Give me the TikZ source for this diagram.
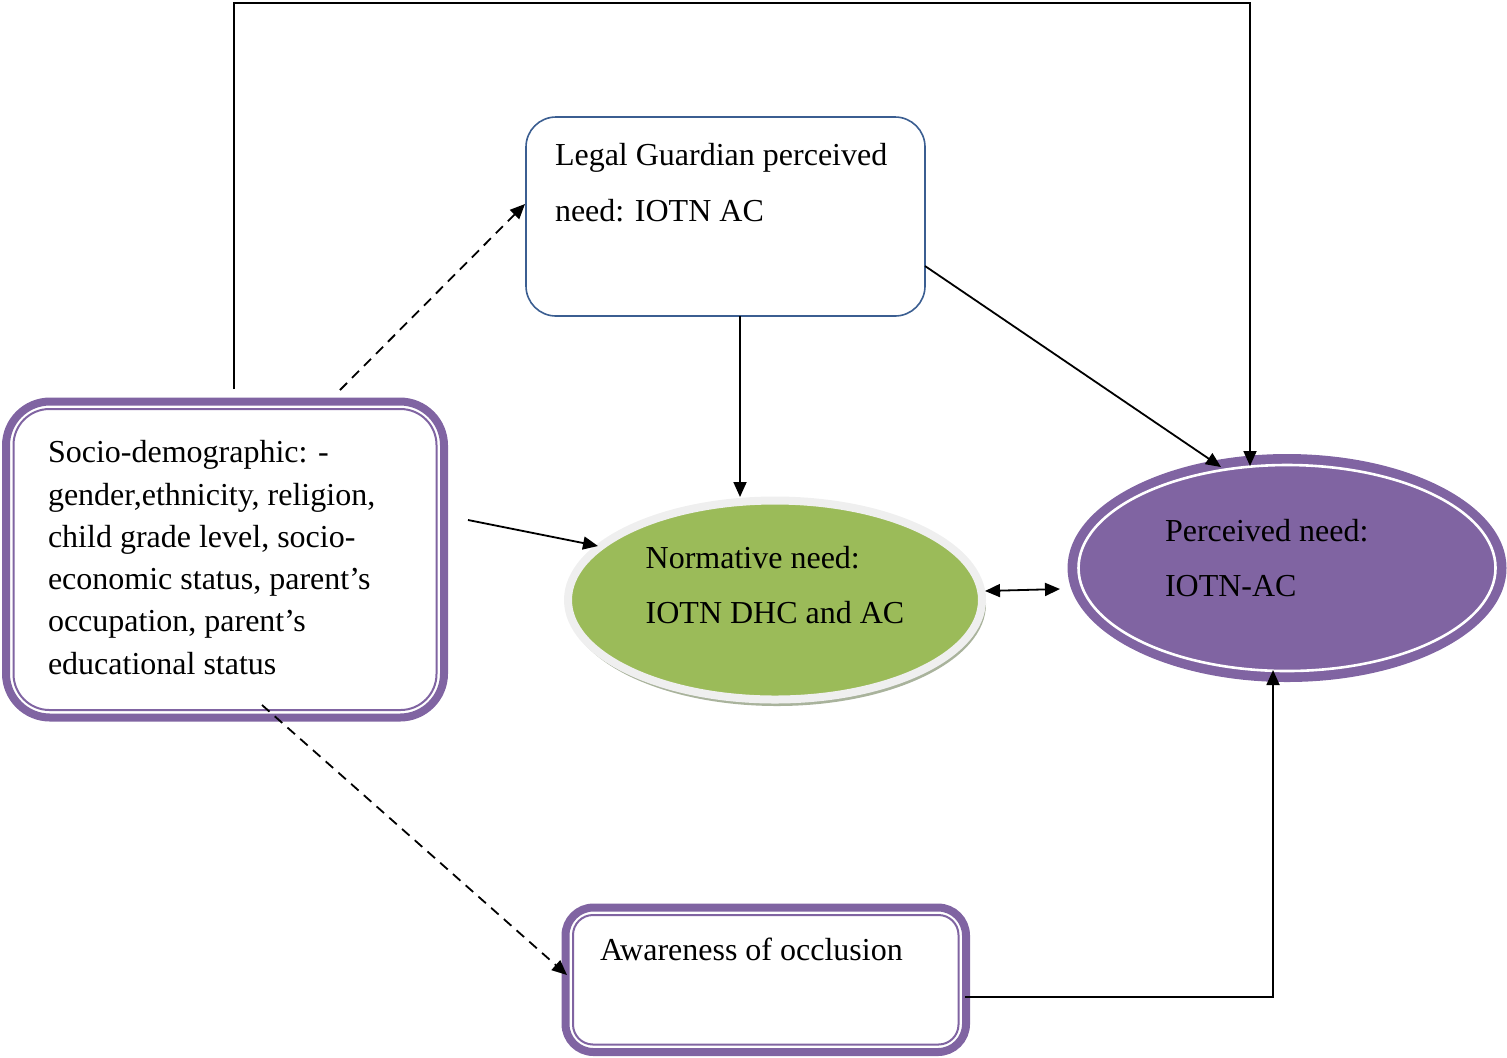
\documentclass[tikz,border=0pt]{standalone}
\usepackage{fontspec}
\setmainfont{Liberation Serif}
\usetikzlibrary{arrows.meta,shapes.geometric,calc}
\definecolor{purp}{HTML}{8064A2}
\definecolor{grn}{HTML}{9BBB59}
\definecolor{blu}{HTML}{3B5E91}
\definecolor{ringc}{HTML}{EFEFEF}
\definecolor{shad}{HTML}{A9B39C}
\begin{document}
\begin{tikzpicture}[x=0.5pt,y=-0.5pt,
  conn/.style={line width=0.9pt,-{Triangle[length=7.5pt,width=6.5pt]}},
  dconn/.style={conn,dash pattern=on 5pt off 3.5pt},
  txt/.style={anchor=base west,inner sep=0pt,outer sep=0pt,font=\fontsize{16}{21.15}\selectfont},
  purplebox/.style={draw=purp,line width=4pt,inner sep=0pt,outer sep=0pt,fill=white}]
\useasboundingbox (0,0) rectangle (1507,1057);

% Legal guardian box
\node[draw=blu,line width=0.8pt,rounded corners=15pt,minimum width=199.5pt,minimum height=99.5pt,inner sep=0pt,outer sep=0pt,fill=white] (legal) at (725.5,216.5) {};
\node[txt] (legalt) at (555,165) {\fontsize{16}{28.3}\selectfont\begin{tabular}[t]{@{}l@{}}Legal Guardian perceived\\need: IOTN AC\end{tabular}};

% Socio-demographic box
\node[purplebox,rounded corners=22pt,minimum width=219pt,minimum height=158pt] (socio) at (225,559.5) {};
\draw[purp,line width=1pt,rounded corners=18pt] ($(socio.north west)+(7.5,7.5)$) rectangle ($(socio.south east)+(-7.5,-7.5)$);
\node[txt] (sociot) at (48,462.7) {\begin{tabular}[t]{@{}l@{}}Socio-demographic: -\\gender,ethnicity, religion,\\child grade level, socio-\\economic status, parent’s\\occupation, parent’s\\educational status\end{tabular}};

% Normative need ellipse
\node[ellipse,fill=shad,minimum width=209pt,minimum height=102pt,inner sep=0pt] (nshadow) at (777,604) {};
\node[ellipse,fill=grn,draw=ringc,line width=4pt,minimum width=207pt,minimum height=99.5pt,inner sep=0pt,outer sep=0pt] (norm) at (775,600) {};
\node[txt] (normt) at (645.7,568) {\fontsize{16}{27.5}\selectfont\begin{tabular}[t]{@{}l@{}}Normative need:\\IOTN DHC and AC\end{tabular}};

% Perceived need ellipse
\node[ellipse,fill=purp,minimum width=219.5pt,minimum height=114pt,inner sep=0pt] (perc) at (1287,568) {};
\draw[white,line width=1.3pt] (perc.center) ellipse [x radius=104.25pt,y radius=51.5pt];
\node[txt] (perct) at (1165,541.7) {\fontsize{16}{27.5}\selectfont\begin{tabular}[t]{@{}l@{}}Perceived need:\\IOTN-AC\end{tabular}};

% Awareness box
\node[purplebox,rounded corners=14pt,minimum width=200.25pt,minimum height=72.25pt] (aware) at (765.75,979.75) {};
\draw[purp,line width=1pt,rounded corners=10pt] ($(aware.north west)+(7.5,7.5)$) rectangle ($(aware.south east)+(-7.5,-7.5)$);
\node[txt] (awaret) at (600,960.7) {Awareness of occlusion};

% connector end points
\coordinate (sTop) at (234,389);
\coordinate (loopR) at (1250,3);
\coordinate (pTop) at (1250,466);
\coordinate (sDashA) at (340,390);
\coordinate (lWest) at (525,204);
\coordinate (lSouth) at (740,316);
\coordinate (nTop) at (740,497);
\coordinate (lEast) at (925,266);
\coordinate (pTopL) at (1221,467);
\coordinate (sEast) at (468,520);
\coordinate (nWest) at (598,546);
\coordinate (nEast) at (985,591);
\coordinate (pWest) at (1060,589);
\coordinate (sDashB) at (262,705);
\coordinate (aWest) at (567,975);
\coordinate (aEast) at (965,997);
\coordinate (pBot) at (1273,670);

% connectors
\draw[conn] (sTop) |- (loopR) -- (pTop);
\draw[dconn] (sDashA) -- (lWest);
\draw[conn] (lSouth) -- (nTop);
\draw[conn] (lEast) -- (pTopL);
\draw[conn] (sEast) -- (nWest);
\draw[line width=0.9pt,{Triangle[length=7.5pt,width=6.5pt]}-{Triangle[length=7.5pt,width=6.5pt]}] (nEast) -- (pWest);
\draw[dconn] (sDashB) -- (aWest);
\draw[conn] (aEast) -| (pBot);
\end{tikzpicture}
\end{document}
